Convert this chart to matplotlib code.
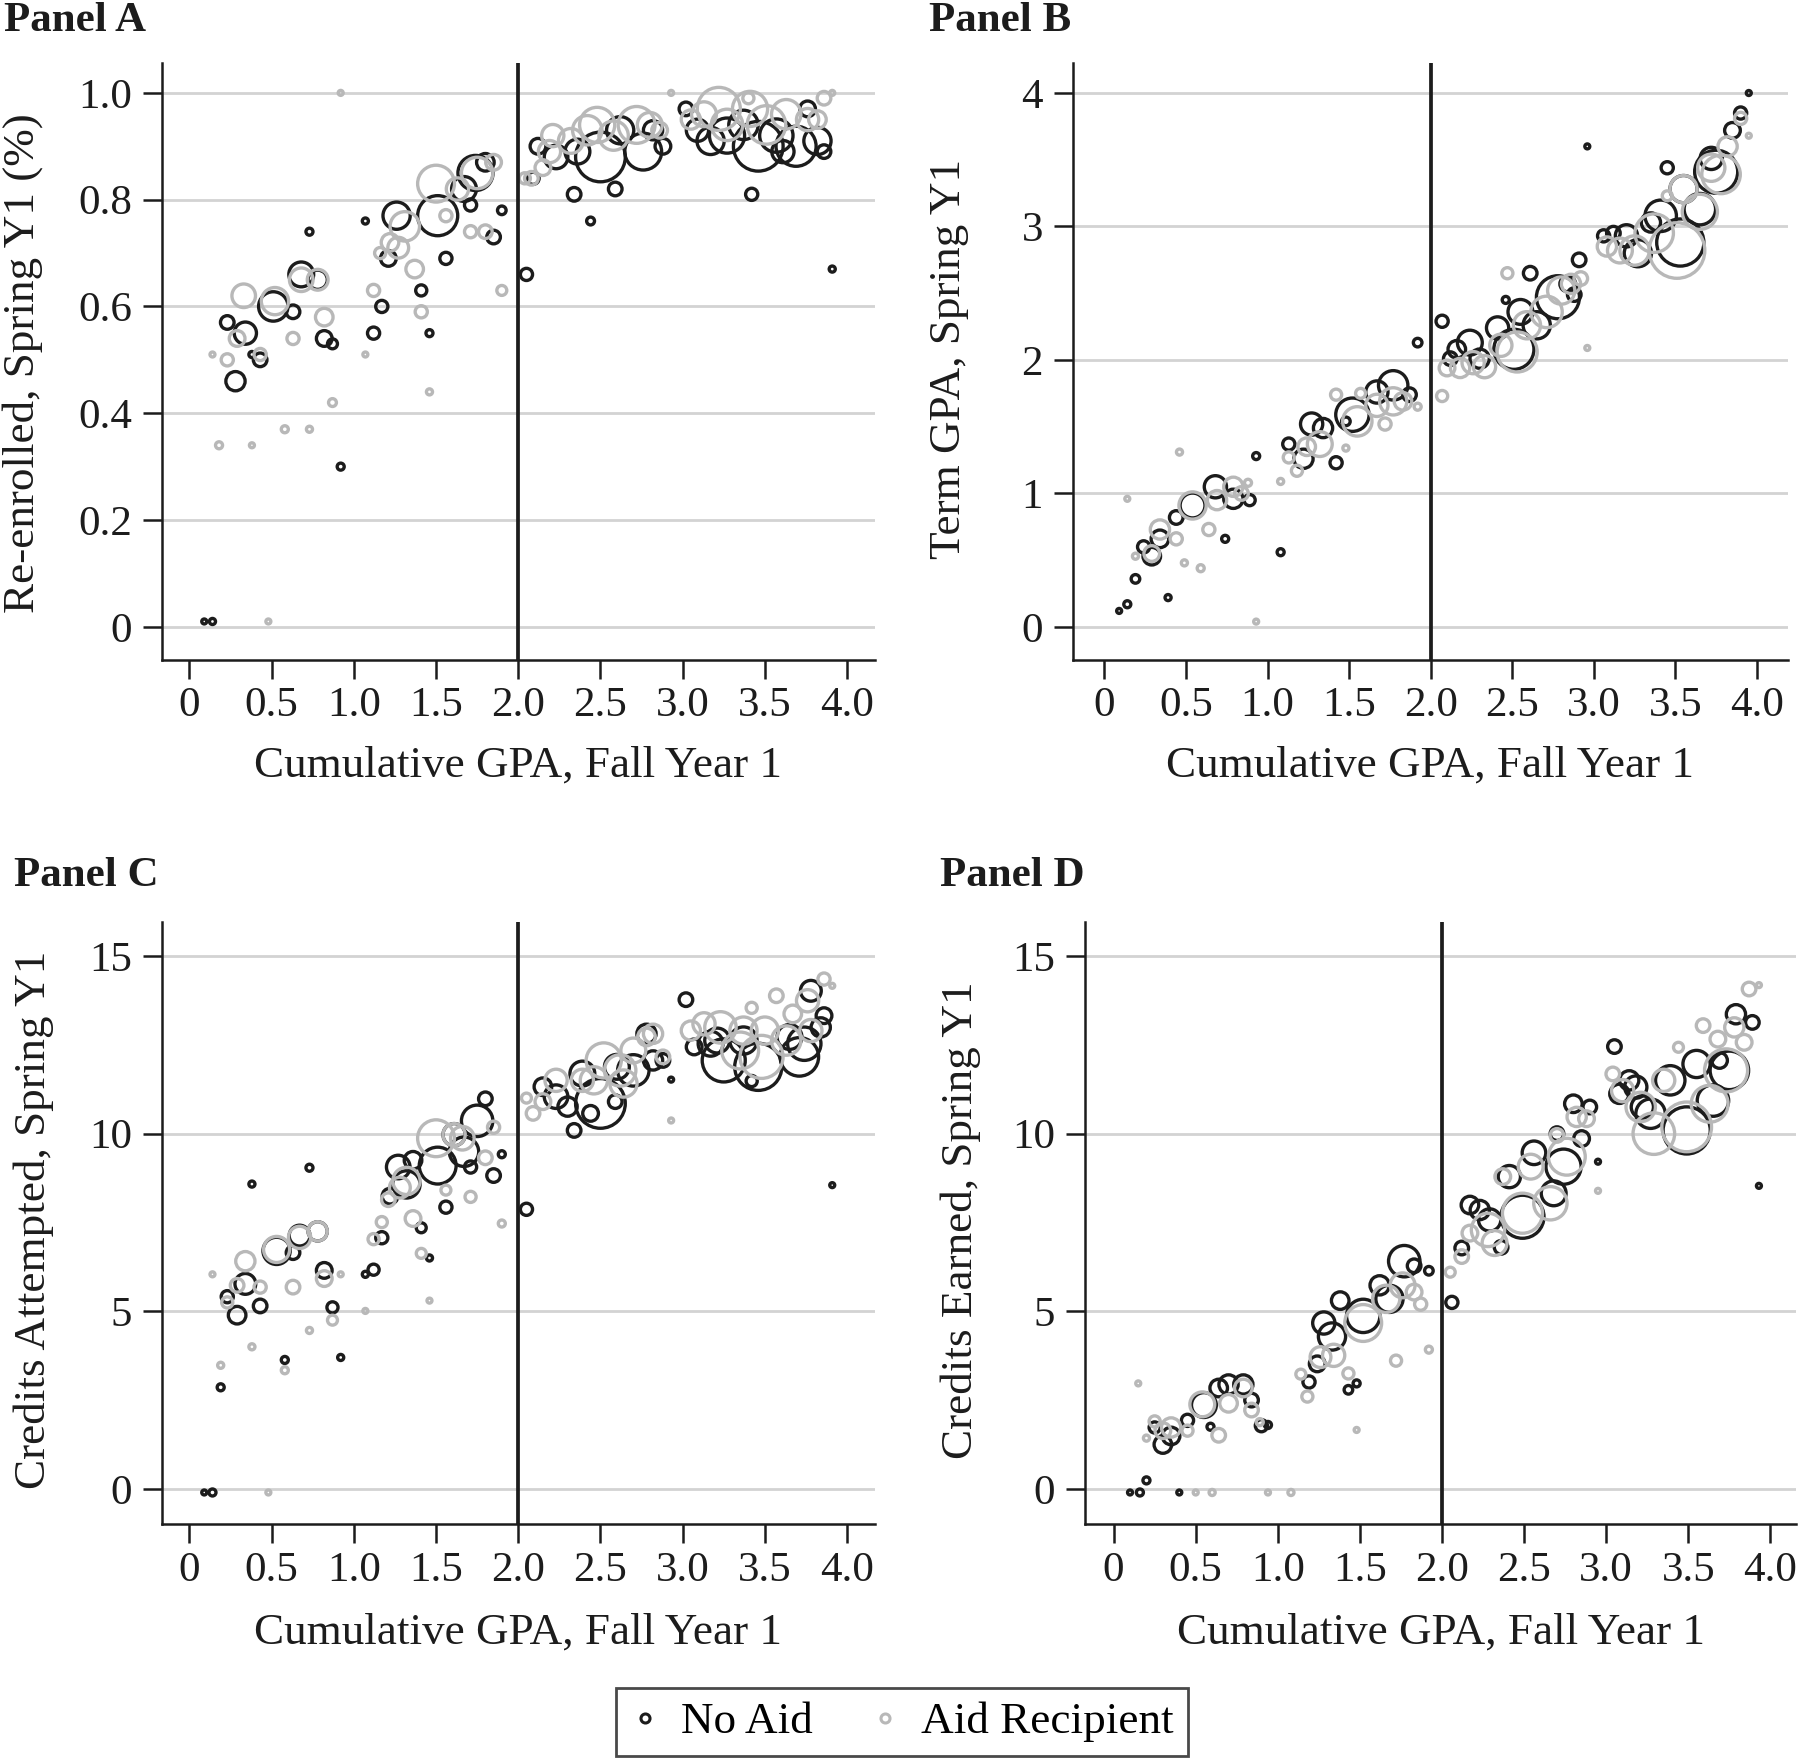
import matplotlib.pyplot as plt
from matplotlib.lines import Line2D

plt.rcParams['font.family'] = ['Liberation Serif', 'DejaVu Serif']

# Panel A: re-enrolled spring Y1, by fall GPA bin
a_noaid_x = [0.09, 0.14, 0.23, 0.28, 0.34, 0.38, 0.43, 0.51, 0.63, 0.68, 0.73, 0.78, 0.82, 0.87, 0.92,
             1.07, 1.12, 1.17, 1.21, 1.26, 1.41, 1.46, 1.51, 1.56, 1.67, 1.71, 1.74, 1.80, 1.85, 1.90,
             2.05, 2.09, 2.12, 2.23, 2.34, 2.36, 2.44, 2.50, 2.59, 2.62, 2.76, 2.82, 2.88,
             3.02, 3.09, 3.17, 3.27, 3.37, 3.42, 3.46, 3.57, 3.61, 3.69, 3.76, 3.82, 3.86, 3.91]
a_noaid_y = [0.01, 0.01, 0.57, 0.46, 0.55, 0.51, 0.50, 0.60, 0.59, 0.66, 0.74, 0.65, 0.54, 0.53, 0.30,
             0.76, 0.55, 0.60, 0.69, 0.77, 0.63, 0.55, 0.77, 0.69, 0.82, 0.79, 0.85, 0.87, 0.73, 0.78,
             0.66, 0.84, 0.90, 0.88, 0.81, 0.89, 0.76, 0.88, 0.82, 0.93, 0.89, 0.93, 0.90,
             0.97, 0.93, 0.91, 0.92, 0.94, 0.81, 0.90, 0.92, 0.89, 0.90, 0.97, 0.91, 0.89, 0.67]
a_noaid_n = [2, 3, 15, 30, 40, 3, 15, 70, 15, 50, 4, 30, 20, 8, 4,
             3, 12, 12, 20, 60, 10, 4, 130, 12, 50, 12, 100, 25, 15, 6,
             12, 12, 20, 45, 15, 50, 5, 200, 15, 60, 110, 30, 20,
             15, 40, 60, 100, 70, 12, 200, 90, 40, 130, 20, 60, 15, 3]

a_aid_x = [0.14, 0.18, 0.23, 0.29, 0.33, 0.38, 0.43, 0.48, 0.52, 0.58, 0.63, 0.68, 0.73, 0.78, 0.82, 0.87, 0.92,
           1.07, 1.12, 1.16, 1.22, 1.27, 1.31, 1.37, 1.41, 1.46, 1.50, 1.56, 1.63, 1.71, 1.75, 1.80, 1.85, 1.90,
           2.04, 2.08, 2.15, 2.19, 2.21, 2.32, 2.42, 2.48, 2.58, 2.72, 2.80, 2.86, 2.93,
           3.05, 3.13, 3.22, 3.27, 3.40, 3.41, 3.51, 3.63, 3.76, 3.82, 3.86, 3.91]
a_aid_y = [0.51, 0.34, 0.50, 0.54, 0.62, 0.34, 0.51, 0.01, 0.61, 0.37, 0.54, 0.65, 0.37, 0.65, 0.58, 0.42, 1.00,
           0.51, 0.63, 0.70, 0.72, 0.71, 0.75, 0.67, 0.59, 0.44, 0.83, 0.77, 0.82, 0.74, 0.85, 0.74, 0.87, 0.63,
           0.84, 0.84, 0.86, 0.89, 0.92, 0.91, 0.93, 0.94, 0.92, 0.94, 0.94, 0.93, 1.00,
           0.95, 0.96, 0.97, 0.94, 0.99, 0.97, 0.94, 0.96, 0.95, 0.95, 0.99, 1.00]
a_aid_n = [2, 4, 12, 20, 45, 2, 12, 2, 60, 4, 12, 45, 3, 35, 25, 5, 2,
           2, 12, 10, 25, 35, 70, 25, 12, 3, 110, 12, 40, 12, 80, 15, 20, 8,
           10, 15, 20, 40, 40, 50, 70, 100, 70, 110, 50, 20, 2,
           30, 50, 150, 80, 10, 100, 120, 70, 40, 25, 15, 2]

# Panel B: term GPA spring Y1
b_noaid_x = [0.09, 0.14, 0.19, 0.24, 0.29, 0.34, 0.39, 0.44, 0.54, 0.68, 0.74, 0.79, 0.89, 0.93,
             1.08, 1.13, 1.22, 1.27, 1.34, 1.42, 1.48, 1.52, 1.67, 1.77, 1.87, 1.92,
             2.07, 2.12, 2.16, 2.24, 2.30, 2.41, 2.46, 2.51, 2.55, 2.61, 2.65, 2.78, 2.84, 2.88, 2.91, 2.96,
             3.06, 3.12, 3.20, 3.27, 3.35, 3.41, 3.45, 3.53, 3.55, 3.65, 3.72, 3.75, 3.85, 3.90, 3.95]
b_noaid_y = [0.12, 0.17, 0.36, 0.60, 0.53, 0.66, 0.22, 0.82, 0.91, 1.05, 0.66, 0.96, 0.95, 1.28,
             0.56, 1.37, 1.26, 1.52, 1.49, 1.23, 1.54, 1.59, 1.76, 1.81, 1.74, 2.13,
             2.29, 2.01, 2.08, 2.13, 2.01, 2.24, 2.45, 2.08, 2.36, 2.65, 2.26, 2.47, 2.57, 2.49, 2.75, 3.60,
             2.93, 2.95, 2.93, 2.80, 3.03, 3.08, 3.44, 2.88, 3.28, 3.13, 3.51, 3.41, 3.72, 3.85, 4.00]
b_noaid_n = [2, 4, 6, 12, 25, 25, 3, 15, 50, 40, 4, 30, 10, 4,
             4, 12, 30, 40, 30, 12, 6, 90, 40, 70, 15, 6,
             12, 15, 25, 50, 30, 40, 4, 130, 50, 15, 60, 150, 20, 15, 15, 2,
             12, 15, 40, 60, 30, 80, 12, 180, 60, 80, 40, 150, 20, 12, 2]

b_aid_x = [0.14, 0.19, 0.29, 0.34, 0.44, 0.46, 0.49, 0.54, 0.59, 0.64, 0.69, 0.79, 0.84, 0.88, 0.93,
           1.08, 1.13, 1.18, 1.24, 1.32, 1.42, 1.48, 1.55, 1.57, 1.67, 1.72, 1.77, 1.83, 1.92,
           2.07, 2.10, 2.18, 2.26, 2.33, 2.43, 2.47, 2.53, 2.59, 2.71, 2.80, 2.86, 2.92, 2.96,
           3.08, 3.16, 3.25, 3.37, 3.45, 3.51, 3.55, 3.65, 3.72, 3.78, 3.82, 3.90, 3.95]
b_aid_y = [0.96, 0.53, 0.55, 0.73, 0.66, 1.31, 0.48, 0.91, 0.44, 0.73, 0.95, 1.05, 1.00, 1.08, 0.04,
           1.09, 1.27, 1.17, 1.35, 1.37, 1.74, 1.34, 1.54, 1.75, 1.66, 1.52, 1.69, 1.69, 1.65,
           1.73, 1.94, 1.94, 1.98, 1.95, 2.11, 2.65, 2.06, 2.26, 2.36, 2.52, 2.57, 2.61, 2.09,
           2.85, 2.82, 2.82, 2.95, 3.23, 2.82, 3.28, 3.11, 3.44, 3.39, 3.60, 3.81, 3.68]
b_aid_n = [2, 3, 20, 30, 12, 3, 3, 60, 4, 12, 30, 30, 15, 4, 2,
           3, 10, 10, 25, 50, 10, 3, 70, 8, 40, 12, 60, 25, 4,
           10, 20, 30, 40, 40, 40, 10, 130, 60, 80, 60, 30, 15, 2,
           30, 50, 70, 120, 8, 250, 60, 100, 60, 120, 30, 12, 2]

# Panel C: credits attempted spring Y1
c_noaid_x = [0.09, 0.14, 0.19, 0.23, 0.29, 0.34, 0.38, 0.43, 0.53, 0.58, 0.63, 0.67, 0.73, 0.78, 0.82, 0.87, 0.92,
             1.07, 1.12, 1.17, 1.22, 1.27, 1.32, 1.36, 1.41, 1.46, 1.51, 1.56, 1.61, 1.67, 1.71, 1.75, 1.80, 1.85, 1.90,
             2.05, 2.15, 2.23, 2.30, 2.34, 2.39, 2.44, 2.50, 2.59, 2.60, 2.70, 2.78, 2.82, 2.88, 2.93,
             3.02, 3.07, 3.17, 3.21, 3.25, 3.37, 3.42, 3.46, 3.65, 3.71, 3.74, 3.78, 3.84, 3.86, 3.91]
c_noaid_y = [-0.1, -0.1, 2.86, 5.41, 4.89, 5.77, 8.58, 5.15, 6.70, 3.63, 6.65, 7.13, 9.04, 7.25, 6.15, 5.11, 3.70,
             6.04, 6.17, 7.07, 8.24, 9.06, 8.57, 9.25, 7.35, 6.50, 9.10, 7.93, 9.97, 9.49, 9.06, 10.36, 10.98, 8.82, 9.42,
             7.87, 11.32, 11.04, 10.76, 10.09, 11.69, 10.57, 10.85, 10.90, 11.88, 11.78, 12.81, 12.06, 12.06, 11.52,
             13.77, 12.44, 12.53, 12.62, 12.06, 12.62, 11.48, 11.88, 12.72, 12.16, 12.53, 14.02, 12.99, 13.32, 8.55]
c_noaid_n = [2, 4, 4, 12, 25, 35, 3, 15, 60, 4, 15, 35, 4, 30, 20, 10, 3,
             3, 10, 12, 20, 45, 60, 25, 8, 3, 110, 12, 40, 70, 12, 80, 15, 15, 4,
             12, 25, 45, 30, 15, 50, 20, 200, 15, 50, 80, 30, 30, 15, 2,
             15, 20, 50, 50, 150, 60, 10, 180, 50, 120, 90, 35, 30, 20, 2]

c_aid_x = [0.14, 0.19, 0.23, 0.29, 0.34, 0.38, 0.43, 0.48, 0.53, 0.58, 0.63, 0.67, 0.73, 0.78, 0.82, 0.87, 0.92,
           1.07, 1.12, 1.17, 1.21, 1.28, 1.32, 1.36, 1.41, 1.46, 1.50, 1.56, 1.61, 1.66, 1.71, 1.80, 1.85, 1.90,
           2.05, 2.09, 2.15, 2.23, 2.39, 2.46, 2.52, 2.62, 2.64, 2.70, 2.78, 2.82, 2.88, 2.93,
           3.05, 3.13, 3.23, 3.35, 3.37, 3.42, 3.48, 3.50, 3.57, 3.63, 3.67, 3.76, 3.78, 3.86, 3.91]
c_aid_y = [6.04, 3.48, 5.25, 5.73, 6.41, 4.00, 5.68, -0.1, 6.74, 3.34, 5.68, 7.08, 4.46, 7.25, 5.92, 4.75, 6.04,
           5.01, 7.03, 7.51, 8.14, 8.48, 8.67, 7.61, 6.63, 5.30, 9.87, 8.41, 9.97, 9.87, 8.22, 9.32, 10.18, 7.47,
           11.00, 10.57, 10.90, 11.50, 11.50, 11.50, 12.06, 11.78, 11.41, 12.34, 12.72, 12.81, 12.16, 10.37,
           12.90, 13.09, 12.99, 12.34, 12.90, 13.54, 12.16, 12.90, 13.88, 12.62, 13.37, 13.74, 12.90, 14.35, 14.16]
c_aid_n = [2, 3, 10, 15, 30, 3, 12, 2, 55, 4, 15, 40, 3, 30, 20, 8, 2,
           2, 10, 10, 15, 35, 60, 20, 8, 2, 110, 8, 40, 45, 10, 15, 12, 4,
           8, 15, 20, 40, 40, 60, 100, 80, 60, 50, 25, 30, 15, 2,
           30, 40, 80, 110, 60, 10, 150, 60, 15, 70, 25, 40, 40, 12, 2]

# Panel D: credits earned spring Y1
d_noaid_x = [0.10, 0.16, 0.20, 0.25, 0.30, 0.35, 0.40, 0.45, 0.55, 0.59, 0.64, 0.70, 0.79, 0.84, 0.90, 0.94,
             1.19, 1.24, 1.28, 1.33, 1.38, 1.43, 1.48, 1.52, 1.62, 1.68, 1.77, 1.83, 1.92,
             2.06, 2.12, 2.17, 2.23, 2.29, 2.36, 2.41, 2.49, 2.56, 2.68, 2.70, 2.74, 2.80, 2.85, 2.90, 2.95,
             3.05, 3.08, 3.14, 3.18, 3.22, 3.27, 3.39, 3.49, 3.55, 3.65, 3.69, 3.75, 3.79, 3.89, 3.93]
d_noaid_y = [-0.1, -0.1, 0.24, 1.73, 1.25, 1.49, -0.1, 1.93, 2.36, 1.75, 2.84, 2.94, 2.94, 2.50, 1.78, 1.80,
             3.01, 3.52, 4.67, 4.29, 5.30, 2.79, 2.97, 4.87, 5.73, 5.35, 6.41, 6.28, 6.14,
             5.25, 6.78, 7.99, 7.85, 7.57, 6.80, 8.79, 7.66, 9.46, 8.32, 10.00, 9.07, 10.84, 9.86, 10.75, 9.21,
             12.45, 11.12, 11.50, 11.31, 10.75, 10.56, 11.50, 10.09, 11.96, 10.93, 12.06, 11.78, 13.36, 13.13, 8.53]
d_noaid_n = [2, 4, 4, 10, 25, 25, 2, 12, 50, 4, 25, 30, 30, 15, 12, 4,
             12, 20, 40, 60, 25, 6, 4, 90, 30, 60, 80, 15, 6,
             12, 15, 25, 30, 40, 15, 40, 150, 45, 50, 15, 100, 25, 20, 15, 2,
             15, 30, 30, 40, 40, 70, 70, 180, 60, 80, 20, 120, 30, 15, 2]

d_aid_x = [0.15, 0.20, 0.25, 0.30, 0.35, 0.45, 0.50, 0.54, 0.60, 0.64, 0.70, 0.79, 0.84, 0.89, 0.94,
           1.08, 1.14, 1.18, 1.26, 1.34, 1.43, 1.48, 1.52, 1.66, 1.72, 1.76, 1.83, 1.87, 1.92,
           2.05, 2.12, 2.17, 2.28, 2.32, 2.37, 2.49, 2.54, 2.66, 2.70, 2.76, 2.82, 2.88, 2.95,
           3.04, 3.10, 3.21, 3.29, 3.35, 3.44, 3.49, 3.59, 3.63, 3.68, 3.73, 3.78, 3.84, 3.87, 3.93]
d_aid_y = [2.97, 1.43, 1.90, 1.64, 1.73, 1.64, -0.1, 2.38, -0.1, 1.51, 2.41, 2.84, 2.22, 1.88, -0.1,
           -0.1, 3.23, 2.60, 3.71, 3.76, 3.25, 1.66, 4.67, 5.35, 3.61, 5.73, 5.54, 5.20, 3.92,
           6.10, 6.54, 7.20, 7.29, 6.92, 8.79, 7.76, 9.07, 8.04, 9.95, 9.35, 10.47, 10.42, 8.39,
           11.68, 11.21, 10.75, 10.00, 11.50, 12.43, 10.19, 13.04, 10.84, 12.66, 11.78, 12.99, 12.57, 14.07, 14.18]
d_aid_n = [2, 3, 10, 20, 30, 10, 2, 50, 3, 15, 25, 25, 15, 4, 2,
           3, 8, 10, 35, 40, 10, 2, 110, 60, 10, 50, 20, 12, 4,
           8, 15, 20, 90, 50, 20, 130, 50, 90, 15, 110, 30, 20, 2,
           15, 40, 70, 140, 40, 8, 200, 15, 110, 20, 150, 30, 20, 15, 2]

x_ticks = [0, 0.5, 1.0, 1.5, 2.0, 2.5, 3.0, 3.5, 4.0]
x_ticklabels = ['0', '0.5', '1.0', '1.5', '2.0', '2.5', '3.0', '3.5', '4.0']

BLACK = '#1c1c1c'
GREY = '#b8b8b8'
FS = 31        # tick labels, titles
FS_LAB = 32.5  # axis titles, legend
AREA = 6.4     # marker area (pt^2) per student


def draw_panel(fig, rect, noaid, aid, xlim, ylim, yticks, yticklabels,
               ylabel, ylab_xy, xlab_y):
    ax = fig.add_axes(rect)

    # bubbles: no aid first, aid recipients on top
    for (xs, ys, ns), col, z in ((noaid, BLACK, 3), (aid, GREY, 4)):
        ax.scatter(xs, ys, s=[AREA * n for n in ns], facecolors='none',
                   edgecolors=col, linewidths=2.4, zorder=z)

    # cutoff at GPA 2.0
    ax.axvline(2.0, color=BLACK, linewidth=2.7, zorder=5)

    ax.set_xlim(*xlim)
    ax.set_ylim(*ylim)
    ax.set_xticks(x_ticks)
    ax.set_xticklabels(x_ticklabels)
    ax.set_yticks(yticks)
    ax.set_yticklabels(yticklabels)

    ax.yaxis.grid(True, color='#d3d3d3', linewidth=2.0)
    ax.set_axisbelow(True)
    for s in ('top', 'right'):
        ax.spines[s].set_visible(False)
    for s in ('left', 'bottom'):
        ax.spines[s].set_linewidth(1.8)
        ax.spines[s].set_color(BLACK)
    ax.tick_params(direction='out', length=13.5, width=1.8, color=BLACK,
                   labelsize=FS, labelcolor=BLACK)
    ax.tick_params(axis='x', pad=6)
    ax.tick_params(axis='y', pad=8)

    ax.set_xlabel('Cumulative GPA, Fall Year 1', fontsize=FS_LAB, color=BLACK)
    ax.xaxis.label.set_va('center')
    ax.xaxis.set_label_coords(0.5, xlab_y)
    ax.set_ylabel(ylabel, fontsize=FS_LAB, color=BLACK)
    ax.yaxis.label.set_va('center')
    ax.yaxis.set_label_coords(*ylab_xy)
    return ax


fig = plt.figure(figsize=(18, 17.64), dpi=100)

draw_panel(fig, [0.090, 0.6259, 0.3961, 0.3384],
           (a_noaid_x, a_noaid_y, a_noaid_n), (a_aid_x, a_aid_y, a_aid_n),
           (-0.167, 4.17), (-0.062, 1.056),
           [0, 0.2, 0.4, 0.6, 0.8, 1.0], ['0', '0.2', '0.4', '0.6', '0.8', '1.0'],
           'Re-enrolled, Spring Y1 (%)', (-0.196, 0.497), -0.177)

draw_panel(fig, [0.5961, 0.6259, 0.3972, 0.3384],
           (b_noaid_x, b_noaid_y, b_noaid_n), (b_aid_x, b_aid_y, b_aid_n),
           (-0.193, 4.19), (-0.247, 4.225),
           [0, 1, 2, 3, 4], ['0', '1', '2', '3', '4'],
           'Term GPA, Spring Y1', (-0.173, 0.504), -0.177)

draw_panel(fig, [0.090, 0.1358, 0.3961, 0.3416],
           (c_noaid_x, c_noaid_y, c_noaid_n), (c_aid_x, c_aid_y, c_aid_n),
           (-0.167, 4.17), (-1.0, 15.96),
           [0, 5, 10, 15], ['0', '5', '10', '15'],
           'Credits Attempted, Spring Y1', (-0.18, 0.505), -0.18)

draw_panel(fig, [0.6028, 0.1358, 0.3950, 0.3416],
           (d_noaid_x, d_noaid_y, d_noaid_n), (d_aid_x, d_aid_y, d_aid_n),
           (-0.174, 4.156), (-1.0, 15.96),
           [0, 5, 10, 15], ['0', '5', '10', '15'],
           'Credits Earned, Spring Y1', (-0.175, 0.505), -0.18)

# panel titles
for txt, x, y in (('Panel A', 0.002, 0.999), ('Panel B', 0.516, 0.999),
                  ('Panel C', 0.008, 0.514), ('Panel D', 0.522, 0.514)):
    fig.text(x, y, txt, ha='left', va='top', fontsize=FS, fontweight='bold', color=BLACK)

# shared legend
handles = [Line2D([], [], linestyle='none', marker='o', markersize=6.5,
                  markerfacecolor='none', markeredgecolor=c, markeredgewidth=2.2)
           for c in (BLACK, GREY)]
leg = fig.legend(handles, ['No Aid', 'Aid Recipient'], loc='center',
                 bbox_to_anchor=(0.501, 0.0238), ncol=2, fontsize=FS_LAB,
                 frameon=True, fancybox=False, edgecolor=BLACK,
                 handlelength=0.7, handletextpad=0.45, columnspacing=1.25,
                 borderpad=0.3)
leg.get_frame().set_linewidth(2.0)

fig.savefig('out.png', dpi=100, facecolor='white')
